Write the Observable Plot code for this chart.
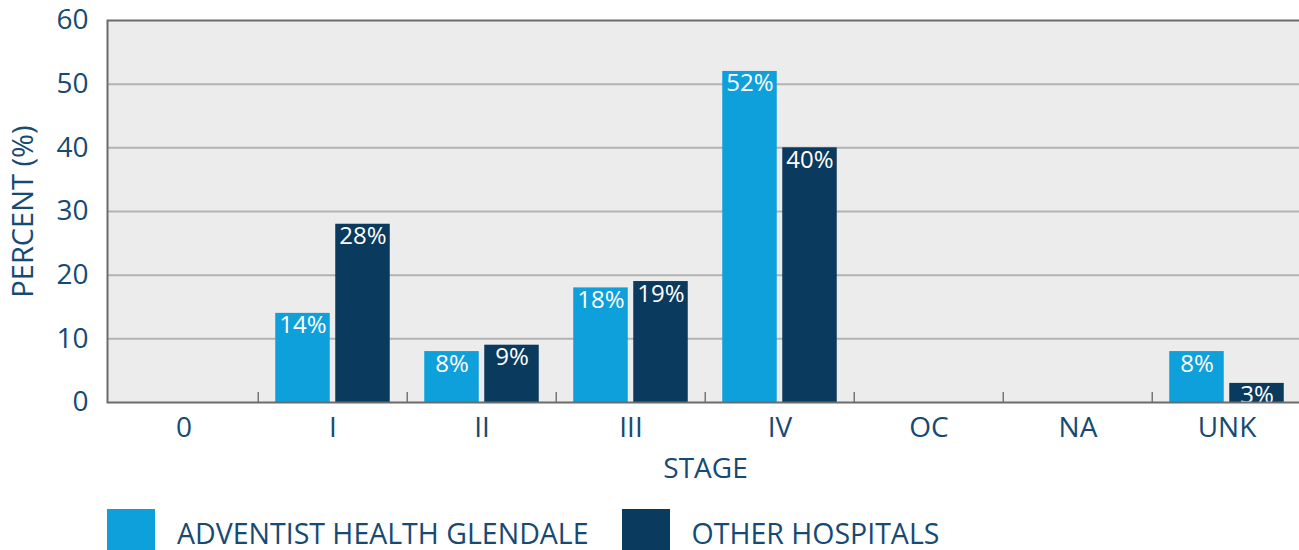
<!DOCTYPE html>
<html>
<head>
<meta charset="utf-8">
<script src="https://cdn.jsdelivr.net/npm/d3@7"></script>
<script src="https://cdn.jsdelivr.net/npm/@observablehq/plot@0.6"></script>
<style>
  html, body { margin: 0; padding: 0; background: #fff; overflow: hidden; width: 1299px; height: 550px; }
  #chart { width: 1303px; }
  #chart svg { display: block; max-width: none !important; }
  .legend { display: flex; align-items: center; margin-left: 107px; margin-top: 9px; font-family: "Open Sans", sans-serif; color: #174a73; font-size: 28.5px; }
  .legend .item { display: flex; align-items: center; }
  .legend .sw { width: 48px; height: 48px; margin-right: 22px; }
  .legend .item + .item { margin-left: 33px; }
</style>
</head>
<body>
<div id="chart"></div>
<div class="legend" id="legend"></div>
<script>
const stages = ["0", "I", "II", "III", "IV", "OC", "NA", "UNK"];
const seriesNames = ["ADVENTIST HEALTH GLENDALE", "OTHER HOSPITALS"];
const adventist = [0, 14, 8, 18, 52, 0, 0, 8];
const others = [0, 28, 9, 19, 40, 0, 0, 3];
const yTicks = [0, 10, 20, 30, 40, 50, 60];
const colors = ["#0ea0db", "#0a3a5e"];
const textColor = "#174a73";

const W = 1303, H = 500, ML = 107, MT = 20, MB = 98;
const step = (W - ML) / stages.length;
const barW = 55, gap = 5;
const outer = (step - 2 * barW - gap) / 2;

const rows = stages.flatMap((s, i) => [
  {stage: s, series: seriesNames[0], value: adventist[i]},
  {stage: s, series: seriesNames[1], value: others[i]}
]);
const rowsA = rows.filter(d => d.series === seriesNames[0]);
const rowsB = rows.filter(d => d.series === seriesNames[1]);

const chart = Plot.plot({
  width: W, height: H,
  marginLeft: ML, marginRight: 0, marginTop: MT, marginBottom: MB,
  style: {fontFamily: "'Open Sans', sans-serif", color: textColor, background: "transparent", maxWidth: "none"},
  x: {domain: stages, padding: 0, label: null},
  y: {domain: [0, 60], label: null},
  color: {domain: seriesNames, range: colors},
  marks: [
    Plot.frame({fill: "#ececec"}),
    Plot.gridY(yTicks.slice(1, -1), {stroke: "#b3b3b3", strokeOpacity: 1, strokeWidth: 2}),
    Plot.barY(rowsA, {x: "stage", y: "value", fill: "series", insetLeft: outer, insetRight: outer + barW + gap}),
    Plot.barY(rowsB, {x: "stage", y: "value", fill: "series", insetLeft: outer + barW + gap, insetRight: outer}),
    Plot.text(rowsA.filter(d => d.value > 0), {x: "stage", y: "value", text: d => d.value + "%", dx: -(barW + gap) / 2, dy: 3, lineAnchor: "top", fill: "white", fontSize: 24, clip: "frame"}),
    Plot.text(rowsB.filter(d => d.value > 0), {x: "stage", y: "value", text: d => d.value + "%", dx: (barW + gap) / 2, dy: 3, lineAnchor: "top", fill: "white", fontSize: 24, clip: "frame"}),
    Plot.ruleX(stages.slice(1), {x: d => d, dx: -step / 2, insetTop: H - MT - MB - 10, stroke: "#777", strokeWidth: 1.5}),
    Plot.frame({stroke: "#6b6b6b", strokeWidth: 2}),
    Plot.axisY(yTicks, {tickSize: 0, tickPadding: 19, fontSize: 28, label: null}),
    Plot.axisX({tickSize: 0, tickPadding: 15, fontSize: 28, label: null}),
    Plot.text(["STAGE"], {text: d => d, frameAnchor: "bottom", dy: 56, lineAnchor: "top", fontSize: 28, fill: textColor}),
    Plot.text(["PERCENT (%)"], {text: d => d, frameAnchor: "left", rotate: -90, dx: -84, textAnchor: "middle", fontSize: 29, fill: textColor})
  ]
});
document.getElementById("chart").append(chart);

const legend = document.getElementById("legend");
seriesNames.forEach((name, i) => {
  const item = document.createElement("div");
  item.className = "item";
  const sw = document.createElement("span");
  sw.className = "sw";
  sw.style.background = colors[i];
  const label = document.createElement("span");
  label.textContent = name;
  item.append(sw, label);
  legend.append(item);
});
</script>
</body>
</html>
